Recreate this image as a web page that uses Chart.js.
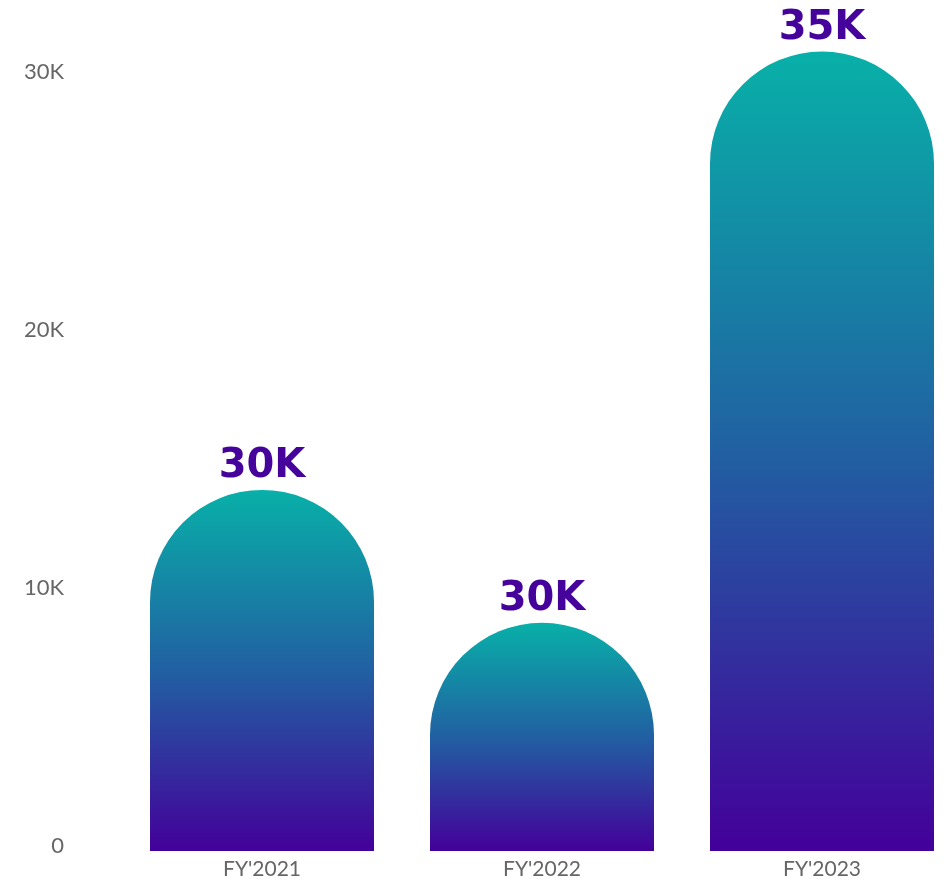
<!DOCTYPE html>
<html>
<head>
<meta charset="utf-8">
<script src="https://cdn.jsdelivr.net/npm/chart.js@4"></script>
<style>
  html, body { margin: 0; padding: 0; background: #fff; overflow: hidden; }
  #wrap { width: 962px; height: 883px; position: relative; }
</style>
</head>
<body>
<div id="wrap"><canvas id="grafico"></canvas></div>
<script>
// dados
const categorias = ["FY'2021", "FY'2022", "FY'2023"];
const valores = [14000, 8850, 31000];
const rotulos = ['30K', '30K', '35K'];
const ticksY = [0, 10000, 20000, 30000];

function gradienteBarra(context) {
  const chart = context.chart;
  const { ctx, chartArea, scales } = chart;
  if (!chartArea || context.type !== 'data') return '#1e74a5';
  const topo = scales.y.getPixelForValue(context.raw);
  const base = scales.y.getPixelForValue(0);
  const g = ctx.createLinearGradient(0, topo, 0, base);
  g.addColorStop(0, '#08b0a8');
  g.addColorStop(0.5, '#2160a2');
  g.addColorStop(1, '#43009a');
  return g;
}

const rotulosPlugin = {
  id: 'rotulos',
  afterDatasetsDraw(chart) {
    const { ctx } = chart;
    const meta = chart.getDatasetMeta(0);
    ctx.save();
    ctx.font = 'bold 40px "DejaVu Sans", sans-serif';
    ctx.fillStyle = '#45039b';
    ctx.textAlign = 'center';
    ctx.textBaseline = 'alphabetic';
    meta.data.forEach((bar, i) => {
      ctx.fillText(rotulos[i], bar.x, bar.y - 13);
    });
    ctx.restore();
  }
};

new Chart(document.getElementById('grafico'), {
  type: 'bar',
  data: {
    labels: categorias,
    datasets: [{
      data: valores,
      backgroundColor: gradienteBarra,
      borderRadius: { topLeft: 200, topRight: 200, bottomLeft: 0, bottomRight: 0 },
      borderSkipped: false,
      barPercentage: 1,
      categoryPercentage: 0.8
    }]
  },
  options: {
    responsive: true,
    maintainAspectRatio: false,
    animation: false,
    layout: { padding: 0 },
    plugins: {
      legend: { display: false },
      tooltip: { enabled: false }
    },
    scales: {
      x: {
        grid: { display: false, drawTicks: false },
        border: { display: false },
        ticks: {
          color: '#666',
          padding: 6,
          font: { family: 'Lato, sans-serif', size: 21 }
        },
        afterFit: s => { s.height = 32; }
      },
      y: {
        min: 0,
        max: 33000,
        grid: { display: false, drawTicks: false },
        border: { display: false },
        afterBuildTicks: s => { s.ticks = ticksY.map(v => ({ value: v })); },
        afterFit: s => {
          s.width = 122;
          s.paddingTop = 0;
          s.paddingBottom = 0;
        },
        ticks: {
          color: '#666',
          padding: 58,
          labelOffset: -5,
          font: { family: 'Lato, sans-serif', size: 22 },
          callback: v => v === 0 ? '0' : (v / 1000) + 'K'
        }
      }
    }
  },
  plugins: [rotulosPlugin]
});
</script>
</body>
</html>
